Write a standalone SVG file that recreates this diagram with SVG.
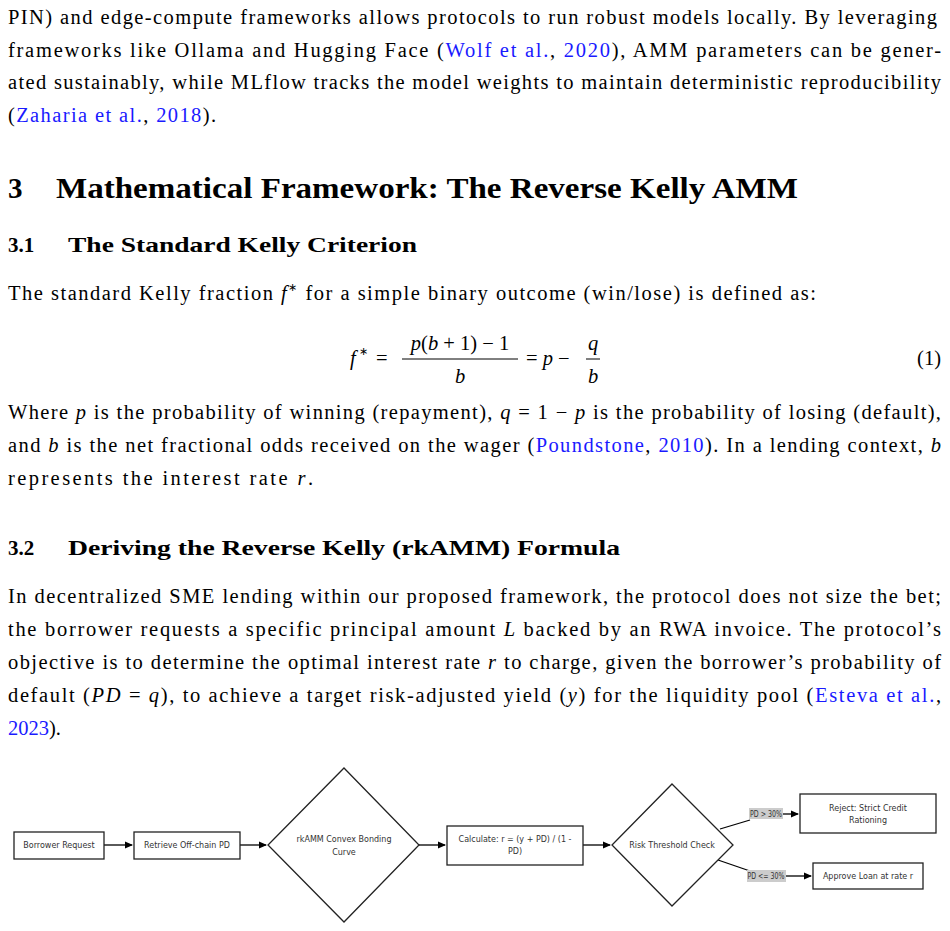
<svg xmlns="http://www.w3.org/2000/svg" width="950" height="931" viewBox="0 0 950 931">
<style>
.t{font-family:"Liberation Serif",serif;font-size:20.5px;fill:#000}
.i{font-style:italic}
.b{fill:#1a1aff}
.h{font-family:"Liberation Serif",serif;font-weight:bold;fill:#000}
.n{fill:#fff;stroke:#222;stroke-width:1.3}
.l{font-family:"DejaVu Sans",sans-serif;font-size:8px;fill:#333;text-anchor:middle}
.c{stroke:#000;stroke-width:1.3;fill:none}
.lb{fill:#ccc}
</style>
<defs><marker id="a" markerWidth="8" markerHeight="8" refX="7" refY="4" orient="auto" markerUnits="userSpaceOnUse"><path d="M0,0.5 L8,4 L0,7.5z" fill="#000"/></marker></defs>
<text class="t" x="8" y="24" textLength="929" lengthAdjust="spacing">PIN) and edge-compute frameworks allows protocols to run robust models locally. By leveraging</text>
<text class="t" x="8" y="57" textLength="933" lengthAdjust="spacing">frameworks like Ollama and Hugging Face (<tspan class="b">Wolf et al.</tspan>, <tspan class="b">2020</tspan>), AMM parameters can be gener-</text>
<text class="t" x="8" y="89" textLength="933" lengthAdjust="spacing">ated sustainably, while MLflow tracks the model weights to maintain deterministic reproducibility</text>
<text class="t" x="8" y="122" textLength="208" lengthAdjust="spacing">(<tspan class="b">Zaharia et al.</tspan>, <tspan class="b">2018</tspan>).</text>
<text class="h" x="8" y="198" font-size="29">3</text>
<text class="h" x="56" y="198" font-size="29" textLength="742" lengthAdjust="spacingAndGlyphs">Mathematical Framework: The Reverse Kelly AMM</text>
<text class="h" x="8" y="252" font-size="21">3.1</text>
<text class="h" x="68" y="252" font-size="21" textLength="349" lengthAdjust="spacingAndGlyphs">The Standard Kelly Criterion</text>
<text class="t" x="8" y="300" textLength="808" lengthAdjust="spacing">The standard Kelly fraction <tspan class="i">f</tspan><tspan font-size="11" dy="-9">∗</tspan><tspan dy="9"> for a simple binary outcome (win/lose) is defined as:</tspan></text>
<g id="eq">
<text x="350" y="365" class="t i">f</text><text x="359" y="355" class="t" style="font-size:11px">∗</text>
<text x="376" y="365" class="t">=</text>
<text x="460" y="350" class="t" text-anchor="middle"><tspan class="i">p</tspan>(<tspan class="i">b</tspan> + 1) − 1</text>
<line x1="402" y1="359" x2="518" y2="359" stroke="#000" stroke-width="1"/>
<text x="460" y="383" class="t i" text-anchor="middle">b</text>
<text x="526" y="365" class="t">= <tspan class="i">p</tspan> −</text>
<text x="593" y="350" class="t i" text-anchor="middle">q</text>
<line x1="586" y1="359" x2="600" y2="359" stroke="#000" stroke-width="1"/>
<text x="593" y="383" class="t i" text-anchor="middle">b</text>
<text x="941" y="365" class="t" text-anchor="end">(1)</text>
</g>
<text class="t" x="8" y="419" textLength="933" lengthAdjust="spacing">Where <tspan class="i">p</tspan> is the probability of winning (repayment), <tspan class="i">q</tspan> = 1 − <tspan class="i">p</tspan> is the probability of losing (default),</text>
<text class="t" x="8" y="452" textLength="933" lengthAdjust="spacing">and <tspan class="i">b</tspan> is the net fractional odds received on the wager (<tspan class="b">Poundstone</tspan>, <tspan class="b">2010</tspan>). In a lending context, <tspan class="i">b</tspan></text>
<text class="t" x="8" y="485" textLength="305" lengthAdjust="spacing">represents the interest rate <tspan class="i">r</tspan>.</text>
<text class="h" x="8" y="555" font-size="21">3.2</text>
<text class="h" x="68" y="555" font-size="21" textLength="552" lengthAdjust="spacingAndGlyphs">Deriving the Reverse Kelly (rkAMM) Formula</text>
<text class="t" x="8" y="603" textLength="933" lengthAdjust="spacing">In decentralized SME lending within our proposed framework, the protocol does not size the bet;</text>
<text class="t" x="8" y="636" textLength="933" lengthAdjust="spacing">the borrower requests a specific principal amount <tspan class="i">L</tspan> backed by an RWA invoice. The protocol’s</text>
<text class="t" x="8" y="669" textLength="933" lengthAdjust="spacing">objective is to determine the optimal interest rate <tspan class="i">r</tspan> to charge, given the borrower’s probability of</text>
<text class="t" x="8" y="702" textLength="933" lengthAdjust="spacing">default (<tspan class="i">PD</tspan> = <tspan class="i">q</tspan>), to achieve a target risk-adjusted yield (<tspan class="i">y</tspan>) for the liquidity pool (<tspan class="b">Esteva et al.</tspan>,</text>
<text class="t" x="8" y="735"><tspan class="b">2023</tspan>).</text>
<g id="connectors">
<line class="c" x1="104" y1="845" x2="132" y2="845" marker-end="url(#a)"/>
<line class="c" x1="240" y1="845" x2="266" y2="845" marker-end="url(#a)"/>
<line class="c" x1="419" y1="845" x2="445" y2="845" marker-end="url(#a)"/>
<line class="c" x1="583" y1="845" x2="610" y2="845" marker-end="url(#a)"/>
<polyline class="c" points="720,829 750,820"/>
<line class="c" x1="783" y1="814" x2="798" y2="814" marker-end="url(#a)"/>
<polyline class="c" points="718,860 750,871"/>
<line class="c" x1="786" y1="876" x2="811" y2="876" marker-end="url(#a)"/>
<rect class="lb" x="749" y="808" width="34" height="11"/>
<text class="l" x="766" y="816.5" textLength="32" lengthAdjust="spacingAndGlyphs">PD &gt; 30%</text>
<rect class="lb" x="747" y="870" width="39" height="12"/>
<text class="l" x="766" y="879" textLength="37" lengthAdjust="spacingAndGlyphs">PD &lt;= 30%</text>
</g>
<g id="n1"><rect class="n" x="14" y="832" width="90" height="27"/><text class="l" x="59" y="848">Borrower Request</text></g>
<g id="n2"><rect class="n" x="134" y="832" width="106" height="27"/><text class="l" x="187" y="848">Retrieve Off-chain PD</text></g>
<g id="n3"><polygon class="n" points="344,768 419,845 344,922 268,845"/><text class="l" x="344" y="842">rkAMM Convex Bonding</text><text class="l" x="344" y="855">Curve</text></g>
<g id="n4"><rect class="n" x="447" y="826" width="136" height="39"/><text class="l" x="515" y="842">Calculate: r = (y + PD) / (1 -</text><text class="l" x="515" y="854">PD)</text></g>
<g id="n5"><polygon class="n" points="672,784 733,845 672,906 612,845"/><text class="l" x="672" y="848">Risk Threshold Check</text></g>
<g id="n6"><rect class="n" x="800" y="794" width="136" height="39"/><text class="l" x="868" y="811">Reject: Strict Credit</text><text class="l" x="868" y="823">Rationing</text></g>
<g id="n7"><rect class="n" x="813" y="863" width="110" height="26"/><text class="l" x="868" y="879">Approve Loan at rate r</text></g>
</svg>
